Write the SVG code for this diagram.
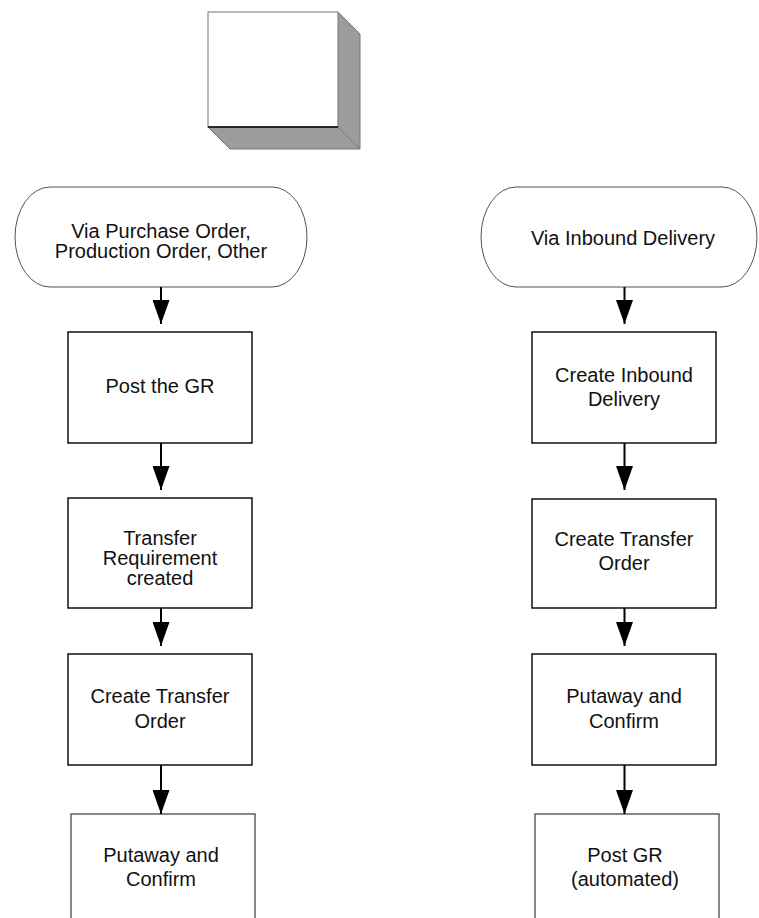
<svg xmlns="http://www.w3.org/2000/svg" width="759" height="918" viewBox="0 0 759 918">
  <style>
    .box { fill: #ffffff; stroke: #000000; stroke-width: 1.4; }
    .box-light { fill: #ffffff; stroke: #555555; stroke-width: 1.4; }
    .term { fill: #ffffff; stroke: #555555; stroke-width: 1; }
    .lbl { font-family: "Liberation Sans", Arial, sans-serif; font-size: 20px; fill: #111111; text-anchor: middle; }
    .conn { stroke: #000000; stroke-width: 2; fill: none; marker-end: url(#arrow); }
  </style>
  <defs>
    <marker id="arrow" viewBox="0 0 24 17" refX="24" refY="8.5" markerWidth="24" markerHeight="17" markerUnits="userSpaceOnUse" orient="auto">
      <path d="M0,0 L24,8.5 L0,17 Z" fill="#000000"/>
    </marker>
  </defs>

  <rect x="0" y="0" width="759" height="918" fill="#ffffff"/>

  <!-- 3-D header block -->
  <g id="header-block">
    <polygon points="208,127 338,127 360,149 230,149" fill="#9c9c9c" stroke="#777777" stroke-width="1"/>
    <polygon points="338,12 360,34 360,149 338,127" fill="#9c9c9c" stroke="#777777" stroke-width="1"/>
    <rect x="208" y="12" width="130" height="115" fill="#ffffff" stroke="#888888" stroke-width="1.2"/>
    <line x1="208" y1="127" x2="338" y2="127" stroke="#000000" stroke-width="1.4"/>
  </g>

  <!-- Left flow -->
  <g id="start-po">
    <path class="term" d="M50,187 L272,187 A35,50 0 0 1 272,287 L50,287 A35,50 0 0 1 50,187 Z"/>
    <text class="lbl" x="161" y="238">Via Purchase Order,</text>
    <text class="lbl" x="161" y="258">Production Order, Other</text>
  </g>
  <g id="post-gr">
    <rect class="box" x="68" y="332" width="184" height="111"/>
    <text class="lbl" x="160" y="393">Post the GR</text>
  </g>
  <g id="tr-created">
    <rect class="box" x="68" y="498" width="184" height="110"/>
    <text class="lbl" x="160" y="545">Transfer</text>
    <text class="lbl" x="160" y="565">Requirement</text>
    <text class="lbl" x="160" y="585">created</text>
  </g>
  <g id="create-to-left">
    <rect class="box" x="68" y="654" width="184" height="111"/>
    <text class="lbl" x="160" y="703">Create Transfer</text>
    <text class="lbl" x="160" y="728">Order</text>
  </g>
  <g id="putaway-left">
    <rect class="box-light" x="71" y="814" width="184" height="120"/>
    <text class="lbl" x="161" y="862">Putaway and</text>
    <text class="lbl" x="161" y="886">Confirm</text>
  </g>

  <!-- Right flow -->
  <g id="start-inbound">
    <path class="term" d="M516,187 L722,187 A35,50 0 0 1 722,287 L516,287 A35,50 0 0 1 516,187 Z"/>
    <text class="lbl" x="623" y="245">Via Inbound Delivery</text>
  </g>
  <g id="create-inbound">
    <rect class="box" x="532" y="332" width="184" height="111"/>
    <text class="lbl" x="624" y="382">Create Inbound</text>
    <text class="lbl" x="624" y="406">Delivery</text>
  </g>
  <g id="create-to-right">
    <rect class="box" x="532" y="499" width="184" height="109"/>
    <text class="lbl" x="624" y="546">Create Transfer</text>
    <text class="lbl" x="624" y="570">Order</text>
  </g>
  <g id="putaway-right">
    <rect class="box" x="532" y="654" width="184" height="111"/>
    <text class="lbl" x="624" y="703">Putaway and</text>
    <text class="lbl" x="624" y="728">Confirm</text>
  </g>
  <g id="post-gr-auto">
    <rect class="box-light" x="535" y="814" width="184" height="120"/>
    <text class="lbl" x="625" y="862">Post GR</text>
    <text class="lbl" x="625" y="886">(automated)</text>
  </g>

  <!-- Connectors -->
  <g id="connectors">
    <line class="conn" x1="161" y1="287" x2="161" y2="324"/>
    <line class="conn" x1="161" y1="443" x2="161" y2="490"/>
    <line class="conn" x1="161" y1="608" x2="161" y2="646"/>
    <line class="conn" x1="161" y1="765" x2="161" y2="814"/>
    <line class="conn" x1="624.5" y1="287" x2="624.5" y2="324"/>
    <line class="conn" x1="624.5" y1="443" x2="624.5" y2="490"/>
    <line class="conn" x1="624.5" y1="608" x2="624.5" y2="646"/>
    <line class="conn" x1="624.5" y1="765" x2="624.5" y2="814"/>
  </g>
</svg>
